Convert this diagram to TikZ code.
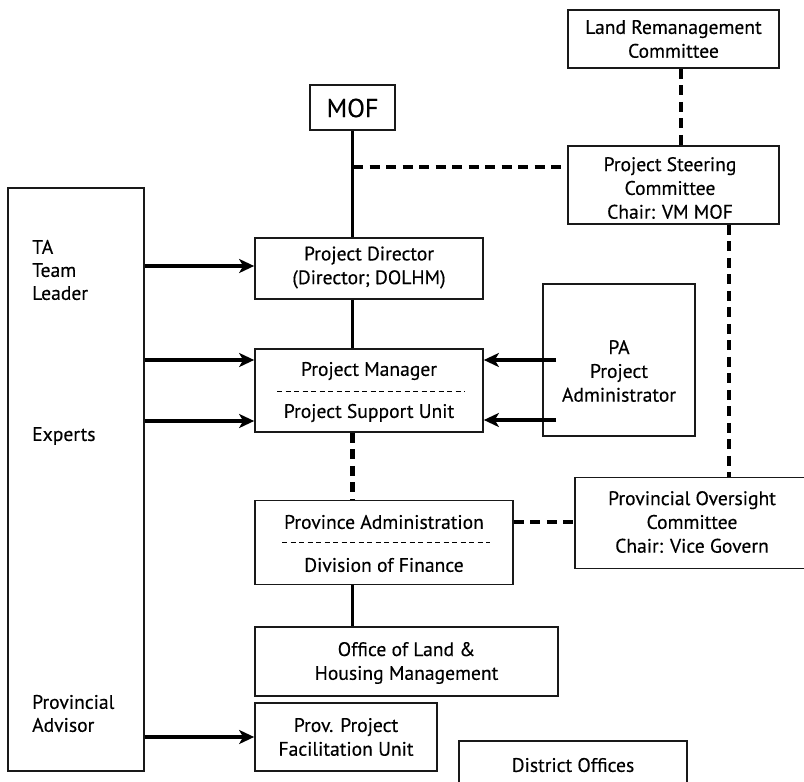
\documentclass[tikz,border=0pt]{standalone}
\usepackage{fontspec}
\setmainfont{PT Sans}[FakeBold=0.35]
\usetikzlibrary{arrows.meta}
\begin{document}
\begin{tikzpicture}[x=1pt,y=-1pt,
  box/.style={draw=black!90, line width=1.7pt, inner sep=0pt},
  txt/.style={align=center, inner sep=0pt, font=\fontsize{19.6}{23.8}\selectfont},
  ltxt/.style={align=left, anchor=west, inner sep=0pt, font=\fontsize{19.6}{23}\selectfont},
  solidc/.style={line width=3.8pt},
  dashc/.style={line width=4.8pt, dash pattern=on 10pt off 6.5pt},
  sepline/.style={line width=0.8pt, dash pattern=on 5pt off 3.5pt},
  arr/.style={line width=3.8pt, -{Stealth[length=15pt,width=14pt,inset=4pt]}}
]
\clip (0,0) rectangle (804,782);
% boxes (x from left, y from top, in px of the reference)
\node[box, minimum width=136pt, minimum height=583pt] (big) at (76,479.5) {};
\node[box, minimum width=85pt, minimum height=45pt] (mof) at (352.5,107.5) {};
\node[box, minimum width=211pt, minimum height=58pt] (lrc) at (673.5,39) {};
\node[box, minimum width=211pt, minimum height=78pt] (psc) at (673.5,185) {};
\node[box, minimum width=228pt, minimum height=61pt] (pd) at (369,268.5) {};
\node[box, minimum width=228pt, minimum height=83pt] (pm) at (369,390.5) {};
\node[box, minimum width=152pt, minimum height=152pt] (pa) at (619,360) {};
\node[box, minimum width=258pt, minimum height=84pt] (padm) at (384,542.5) {};
\node[box, minimum width=260pt, minimum height=91pt] (poc) at (705,523) {};
\node[box, minimum width=303pt, minimum height=69pt] (olh) at (406.5,661.5) {};
\node[box, minimum width=182pt, minimum height=68pt] (ppfu) at (346,737) {};
\node[box, minimum width=228pt, minimum height=80pt] (dist) at (573,781) {};
% texts
\node[inner sep=0pt, font=\fontsize{26}{28}\selectfont] (moft) at (352.5,108) {MOF};
\node[txt] (lrct) at (673.5,39) {Land Remanagement\\Committee};
\node[txt] (psct) at (670,188) {Project Steering\\Committee\\Chair: VM MOF};
\node[txt] (pdt) at (369,267.5) {Project Director\\(Director; DOLHM)};
\node[txt] (pmt1) at (369,371) {Project Manager};
\node[txt] (pmt2) at (369,413) {Project Support Unit};
\node[txt] (pat) at (619,371) {PA\\Project\\Administrator};
\node[txt] (padt1) at (384,522) {Province Administration};
\node[txt] (padt2) at (384,565) {Division of Finance};
\node[txt] (poct) at (692,522) {Provincial Oversight\\Committee\\Chair: Vice Govern};
\node[txt] (olht) at (406.5,663) {Office of Land \&\\Housing Management};
\node[txt] (ppfut) at (346,737) {Prov. Project\\Facilitation Unit};
\node[txt] (distt) at (573,765) {District Offices};
\node[ltxt] (tat) at (32,270) {TA\\Team\\Leader};
\node[ltxt] (expt) at (32,436) {Experts};
\node[ltxt] (pvt) at (32,713.5) {Provincial\\Advisor};
% separators inside boxes
\coordinate (s1) at (277,391); \coordinate (s2) at (465,391);
\draw[sepline] (s1) -- (s2);
\coordinate (s3) at (282,542); \coordinate (s4) at (490,542);
\draw[sepline] (s3) -- (s4);
% solid connectors
\draw[solidc] (mof.south) -- (pd.north -| mof.south);
\draw[solidc] (pd.south -| mof.south) -- (pm.north -| mof.south);
\draw[solidc] (padm.south -| mof.south) -- (olh.north -| mof.south);
% dashed connectors
\coordinate (j1) at (353,167);
\draw[dashc] (j1) -- (j1 -| psc.west);
\draw[dashc] (lrc.south -| 681,0) -- (psc.north -| 681,0);
\draw[dashc] (psc.south -| 729,0) -- (poc.north -| 729,0);
\draw[dashc] (pm.south -| mof.south) -- (padm.north -| mof.south);
\draw[dashc] (padm.east |- 0,522) -- (poc.west |- 0,522);
% arrows
\draw[arr] (big.east |- 0,266) -- (pd.west |- 0,266);
\draw[arr] (big.east |- 0,360) -- (pm.west |- 0,360);
\draw[arr] (big.east |- 0,421) -- (pm.west |- 0,421);
\draw[arr] (big.east |- 0,737) -- (ppfu.west |- 0,737);
\coordinate (pa1) at (556,360); \coordinate (pa2) at (556,420);
\draw[arr] (pa1) -- (pm.east |- pa1);
\draw[arr] (pa2) -- (pm.east |- pa2);
\end{tikzpicture}
\end{document}
